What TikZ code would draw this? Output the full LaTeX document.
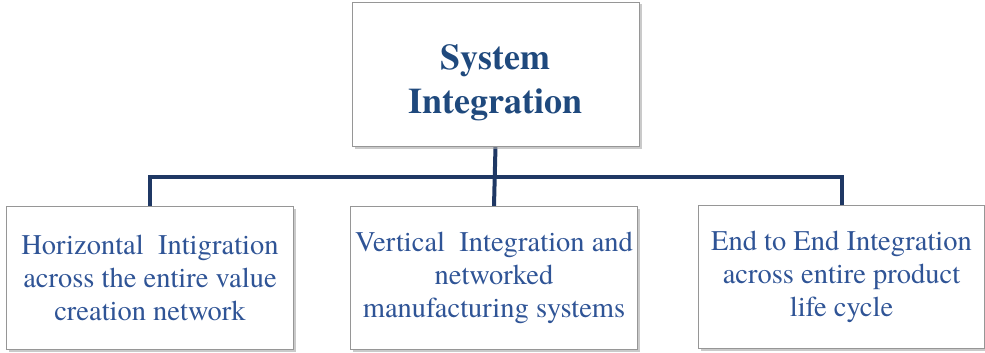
\documentclass[tikz,border=0pt]{standalone}
\usepackage{fontspec}
\setmainfont{TeX Gyre Termes}
\usetikzlibrary{shadows,backgrounds}
\definecolor{linenavy}{RGB}{31,56,100}
\definecolor{txtblue}{RGB}{47,84,150}
\definecolor{txtbold}{RGB}{31,73,125}
\definecolor{boxborder}{RGB}{150,150,150}
\tikzset{
  box/.style={draw=boxborder, line width=0.8pt, fill=white, minimum width=287pt, minimum height=143pt,
    align=center, inner sep=0pt,
    drop shadow={shadow xshift=2.5pt, shadow yshift=-2.5pt, fill=black!35, opacity=0.6}},
  headbox/.style={box, text=txtbold, font=\fontsize{36}{44}\selectfont\bfseries},
  leafbox/.style={box, text=txtblue, font=\fontsize{28.5}{33}\selectfont},
  conn/.style={draw=linenavy, line width=4pt, line join=miter}
}
\begin{document}
\begin{tikzpicture}[x=1pt,y=-1pt]
  \useasboundingbox (0,0) rectangle (985,353);
  \coordinate (bus) at (494.5,177);
  \node[headbox, minimum height=144pt] (top) at (495.5,74) {\rule{0pt}{42pt}System\\Integration};
  \node[leafbox] (left) at (150,278) {Horizontal\hspace{0.25em} Intigration\\across the entire value\\creation network};
  \node[leafbox] (mid) at (494,278) {Vertical\hspace{0.25em} Integration and\\networked\\manufacturing systems};
  \node[leafbox, minimum width=286pt] (right) at (841.5,277) {End to End Integration\\across entire product\\life cycle};
  \begin{scope}[on background layer]
    \draw[conn] (top.south) -- (mid.north);
    \draw[conn] (left.north) |- (bus) -| (right.north);
  \end{scope}
\end{tikzpicture}
\end{document}
